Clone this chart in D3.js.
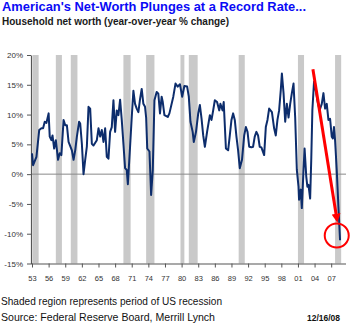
<!DOCTYPE html>
<html><head><meta charset="utf-8">
<script src="https://cdn.jsdelivr.net/npm/d3@7"></script>
<style>
html,body{margin:0;padding:0;background:#fff;}
svg{display:block;font-family:"Liberation Sans",Arial,sans-serif;}
</style></head>
<body>
<svg id="c" width="350" height="327"></svg>
<script>
// ---- data ----
const years = [1953.0,1953.2,1953.8,1954.3,1954.7,1955.0,1955.3,1955.6,1956.0,1956.2,1956.5,1956.7,1957.0,1957.3,1957.7,1958.0,1958.3,1958.7,1959.0,1959.3,1959.6,1960.2,1960.5,1960.8,1961.1,1961.5,1961.7,1962.0,1962.3,1962.6,1962.9,1963.2,1963.5,1963.8,1964.1,1964.7,1965.0,1965.3,1965.6,1965.9,1966.2,1966.5,1966.8,1967.1,1967.4,1967.7,1968.0,1968.3,1968.6,1968.9,1969.2,1969.5,1969.8,1970.1,1970.3,1970.7,1971.0,1971.3,1971.6,1971.9,1972.2,1972.5,1972.8,1973.1,1973.4,1973.6,1973.8,1974.2,1974.5,1974.8,1975.1,1975.5,1975.8,1976.1,1976.4,1976.6,1976.9,1977.5,1977.8,1978.5,1978.9,1979.3,1979.7,1980.1,1980.5,1981.0,1981.3,1981.6,1982.0,1982.2,1982.6,1983.0,1983.3,1983.6,1983.9,1984.2,1984.6,1985.1,1985.4,1985.7,1986.0,1986.4,1986.8,1987.0,1987.4,1987.6,1988.0,1988.4,1988.7,1989.0,1989.3,1989.6,1989.9,1990.2,1990.5,1990.9,1991.3,1991.6,1991.9,1992.2,1992.6,1992.9,1993.2,1993.5,1993.8,1994.1,1994.4,1994.9,1995.2,1995.5,1995.8,1996.3,1996.7,1997.0,1997.3,1997.6,1997.9,1998.1,1998.4,1998.7,1999.0,1999.3,1999.6,1999.9,2000.2,2000.5,2000.8,2001.1,2001.2,2001.5,2001.7,2002.0,2002.2,2002.5,2002.7,2002.9,2003.2,2003.4,2003.6,2003.9,2004.3,2004.5,2004.9,2005.3,2005.6,2005.9,2006.2,2006.5,2006.8,2007.1,2007.3,2007.5,2007.7,2008.0,2008.3,2008.6];
const netWorthChange = [3.5,1.5,2.9,7.4,7.7,7.7,8.8,8.6,10.2,6.3,5.7,6.5,4.3,5.7,2.4,3.5,3.2,9.1,8.2,8.2,5.4,4.0,2.4,4.0,6.3,8.8,8.5,5.1,0.0,2.4,4.6,11.3,11.0,5.1,4.8,5.7,7.7,6.3,7.4,5.4,7.7,2.9,2.6,7.1,7.9,12.4,7.1,10.7,9.9,12.5,9.1,5.1,1.0,0.7,-1.7,4.6,9.5,14.0,11.8,11.0,10.4,12.6,14.3,11.8,11.3,9.5,4.3,3.8,-3.5,0.7,12.4,13.8,13.5,10.2,13.0,12.1,9.9,9.6,10.2,13.0,15.2,14.7,15.1,13.0,14.8,14.7,13.0,8.8,7.1,5.4,7.1,10.2,11.6,9.3,6.5,4.6,7.1,9.9,9.1,10.7,12.4,12.1,10.7,11.8,10.7,12.1,4.3,4.0,6.5,9.1,10.2,9.1,6.3,4.0,1.0,2.4,6.5,7.9,7.1,4.6,4.5,4.6,6.3,7.1,6.5,4.6,4.5,3.2,7.9,9.1,11.0,10.4,7.7,6.5,9.1,10.7,14.1,16.9,13.6,8.8,11.8,9.5,11.8,13.6,15.2,9.5,0.7,-2.1,-4.3,-2.6,-5.7,0.7,4.3,-0.4,-2.1,-1.8,-4.1,2.4,10.7,15.5,13.6,12.4,10.7,11.8,13.6,11.0,11.8,9.1,9.3,6.3,6.0,7.9,5.7,0.7,-5.4,-11.1];
const recessionStart = [1953.1,1957.3,1960.0,1969.5,1973.6,1979.8,1981.3,1990.3,2001.0,2007.7];
const recessionEnd   = [1954.2,1958.4,1961.2,1970.8,1975.1,1980.5,1982.9,1991.4,2002.1,2008.8];
const yTicks = [-15,-10,-5,0,5,10,15,20];
const xTickYears = [1953,1956,1959,1962,1965,1968,1971,1974,1977,1980,1983,1986,1989,1992,1995,1998,2001,2004,2007];
const arrowFrom = [2003.7, 17.6];
const arrowTo = [2008.0, -7.4];
const circleAt = [2008.0, -10.3];

const title = "American's Net-Worth Plunges at a Record Rate...";
const subtitle = "Household net worth (year-over-year % change)";
const note = "Shaded region represents period of US recession";
const source = "Source: Federal Reserve Board, Merrill Lynch";
const dateText = "12/16/08";

// ---- drawing ----
const svg = d3.select("#c");
const x = d3.scaleLinear().domain([1953, 2009.6]).range([32, 345.6]);
const y = d3.scaleLinear().domain([-15, 20]).range([263.5, 55]);

// recession bands
svg.append("g").selectAll("rect").data(recessionStart).join("rect")
  .attr("x", (d,i) => x(d))
  .attr("width", (d,i) => x(recessionEnd[i]) - x(d))
  .attr("y", y(20)).attr("height", y(-15) - y(20))
  .attr("fill", "#c9c9c9");

// zero line
svg.append("line").attr("x1", 31).attr("x2", 346)
  .attr("y1", y(0)).attr("y2", y(0))
  .attr("stroke", "#8a8a8a").attr("stroke-width", 1);

// axes
const yAxis = svg.append("g").attr("transform", "translate(31,0)")
  .call(d3.axisLeft(y).tickValues(yTicks).tickSize(4).tickSizeOuter(0).tickPadding(4)
    .tickFormat(d => d + "%"));
const xAxis = svg.append("g").attr("transform", `translate(0,${y(-15)})`)
  .call(d3.axisBottom(x).tickValues(xTickYears).tickSize(4).tickSizeOuter(0).tickPadding(8)
    .tickFormat(d => String(d).slice(2)));
[yAxis, xAxis].forEach(g => {
  g.select(".domain").attr("stroke", "#555").attr("stroke-width", 1.2);
  g.selectAll(".tick line").attr("stroke", "#555");
  g.selectAll(".tick text").attr("fill", "#333").attr("font-family", "'Liberation Sans',Arial,sans-serif");
});
yAxis.selectAll(".tick text").attr("font-size", 8);
xAxis.selectAll(".tick text").attr("font-size", 7.5);
xAxis.select(".domain").attr("d", `M31,0.5H346`);

// data line
const pts = years.map((yr, i) => [yr, netWorthChange[i]]);
svg.append("path").datum(pts)
  .attr("fill", "none").attr("stroke", "#0d2d6c").attr("stroke-width", 2)
  .attr("stroke-linejoin", "round")
  .attr("d", d3.line().x(d => x(d[0])).y(d => y(d[1])));

// red arrow and circle
svg.append("defs").append("marker").attr("id", "ah")
  .attr("viewBox", "0 0 10 10").attr("refX", 5).attr("refY", 5)
  .attr("markerWidth", 3).attr("markerHeight", 3).attr("orient", "auto")
  .append("path").attr("d", "M0,0L10,5L0,10z").attr("fill", "#ff0000");
svg.append("line")
  .attr("x1", x(arrowFrom[0])).attr("y1", y(arrowFrom[1]))
  .attr("x2", x(arrowTo[0])).attr("y2", y(arrowTo[1]))
  .attr("stroke", "#ff0000").attr("stroke-width", 3)
  .attr("marker-end", "url(#ah)");
svg.append("circle").attr("cx", x(circleAt[0])).attr("cy", y(circleAt[1])).attr("r", 12)
  .attr("fill", "none").attr("stroke", "#ff0000").attr("stroke-width", 2);

// texts
svg.append("text").attr("x", 2).attr("y", 11).text(title)
  .attr("font-size", 13).attr("font-weight", "bold").attr("fill", "#0a0af5")
  .attr("textLength", 304).attr("lengthAdjust", "spacingAndGlyphs");
svg.append("text").attr("x", 2).attr("y", 25).text(subtitle)
  .attr("font-size", 10.5).attr("font-weight", "bold").attr("fill", "#1a1a1a")
  .attr("textLength", 227).attr("lengthAdjust", "spacingAndGlyphs");
svg.append("text").attr("x", 1).attr("y", 305).text(note)
  .attr("font-size", 11.5).attr("fill", "#111")
  .attr("textLength", 221).attr("lengthAdjust", "spacingAndGlyphs");
svg.append("text").attr("x", 1).attr("y", 320.5).text(source)
  .attr("font-size", 11.5).attr("fill", "#111")
  .attr("textLength", 214).attr("lengthAdjust", "spacingAndGlyphs");
svg.append("text").attr("x", 307).attr("y", 321).text(dateText)
  .attr("font-size", 9).attr("font-weight", "bold").attr("fill", "#111")
  .attr("textLength", 33).attr("lengthAdjust", "spacingAndGlyphs");
</script>
</body></html>
